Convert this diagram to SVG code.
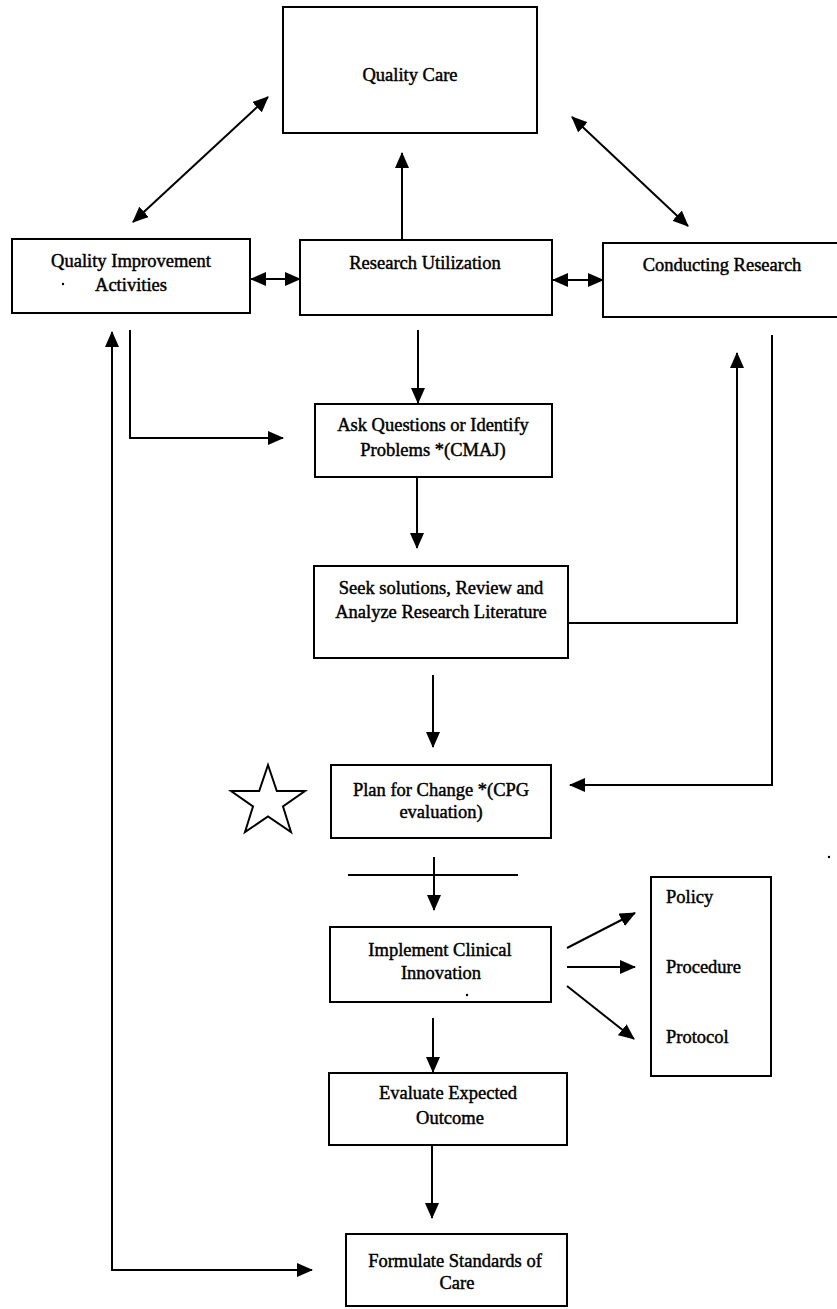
<svg xmlns="http://www.w3.org/2000/svg" width="837" height="1309" viewBox="0 0 837 1309">
<style>
.box{fill:#fff;stroke:#000;stroke-width:2}
.t{font-family:"Liberation Serif","Times New Roman",serif;font-size:18.5px;fill:#000;stroke:#000;stroke-width:0.45;text-anchor:middle}
.tl{text-anchor:start}
.c{fill:none;stroke:#000;stroke-width:2}
</style>
<defs>
<marker id="ah" markerUnits="userSpaceOnUse" markerWidth="16" markerHeight="14" refX="15" refY="7" orient="auto-start-reverse">
<path d="M0,0 L16,7 L0,14 Z" fill="#000"/>
</marker>
</defs>
<rect width="837" height="1309" fill="#fff"/>

<g id="connectors">
<line class="c" x1="133" y1="222" x2="268" y2="97" marker-start="url(#ah)" marker-end="url(#ah)"/>
<line class="c" x1="572" y1="117" x2="688" y2="226" marker-start="url(#ah)" marker-end="url(#ah)"/>
<line class="c" x1="402" y1="240" x2="402" y2="153" marker-end="url(#ah)"/>
<line class="c" x1="251" y1="279" x2="300" y2="279" marker-start="url(#ah)" marker-end="url(#ah)"/>
<line class="c" x1="553" y1="280" x2="603" y2="280" marker-start="url(#ah)" marker-end="url(#ah)"/>
<line class="c" x1="418" y1="330" x2="418" y2="403" marker-end="url(#ah)"/>
<path class="c" d="M130,330 V438 H283" marker-end="url(#ah)"/>
<path class="c" d="M112,332 V1270 H312" marker-start="url(#ah)" marker-end="url(#ah)"/>
<line class="c" x1="417" y1="477" x2="417" y2="548" marker-end="url(#ah)"/>
<path class="c" d="M568,623 H737 V353" marker-end="url(#ah)"/>
<path class="c" d="M772,335 V785 H570" marker-end="url(#ah)"/>
<line class="c" x1="433" y1="675" x2="433" y2="747" marker-end="url(#ah)"/>
<line class="c" x1="434" y1="857" x2="434" y2="910" marker-end="url(#ah)"/>
<line class="c" x1="348" y1="875" x2="518" y2="875"/>
<line class="c" x1="433" y1="1018" x2="433" y2="1072" marker-end="url(#ah)"/>
<line class="c" x1="432" y1="1145" x2="432" y2="1218" marker-end="url(#ah)"/>
<line class="c" x1="567" y1="948" x2="635" y2="913" marker-end="url(#ah)"/>
<line class="c" x1="567" y1="967" x2="635" y2="967" marker-end="url(#ah)"/>
<line class="c" x1="567" y1="986" x2="634" y2="1039" marker-end="url(#ah)"/>
</g>

<g id="quality-care">
<rect class="box" x="283" y="7" width="254" height="126"/>
<text class="t" x="410" y="81">Quality Care</text>
</g>

<g id="quality-improvement">
<rect class="box" x="12" y="239" width="238" height="74"/>
<text class="t" x="131" y="267">Quality Improvement</text>
<text class="t" x="131" y="291">Activities</text>
<circle cx="63" cy="284" r="1.2" fill="#000"/>
</g>

<g id="research-utilization">
<rect class="box" x="300" y="240" width="252" height="75"/>
<text class="t" x="425" y="269">Research Utilization</text>
</g>

<g id="conducting-research">
<rect class="box" x="603" y="243" width="236" height="74"/>
<text class="t" x="722" y="271">Conducting Research</text>
</g>

<g id="ask-questions">
<rect class="box" x="315" y="404" width="237" height="73"/>
<text class="t" x="433" y="431">Ask Questions or Identify</text>
<text class="t" x="433" y="456">Problems *(CMAJ)</text>
</g>

<g id="seek-solutions">
<rect class="box" x="314" y="566" width="254" height="92"/>
<text class="t" x="441" y="594">Seek solutions, Review and</text>
<text class="t" x="441" y="618">Analyze Research Literature</text>
</g>

<g id="star">
<polygon points="268,765 276.8,791 305,791 283,806.5 291,832 268,816.5 245,832 253,806.5 231,791 259.2,791" fill="none" stroke="#000" stroke-width="2" stroke-linejoin="miter"/>
</g>

<g id="plan-for-change">
<rect class="box" x="331" y="765" width="220" height="73"/>
<text class="t" x="441" y="796">Plan for Change *(CPG</text>
<text class="t" x="441" y="818">evaluation)</text>
</g>

<g id="implement">
<rect class="box" x="330" y="927" width="221" height="75"/>
<text class="t" x="440" y="956">Implement Clinical</text>
<text class="t" x="441" y="979">Innovation</text>
<circle cx="467" cy="995" r="1.2" fill="#000"/>
</g>

<g id="policy-box">
<rect class="box" x="651" y="877" width="120" height="199"/>
<text class="t tl" x="666" y="903">Policy</text>
<text class="t tl" x="666" y="973">Procedure</text>
<text class="t tl" x="666" y="1043">Protocol</text>
</g>

<g id="evaluate">
<rect class="box" x="329" y="1073" width="238" height="72"/>
<text class="t" x="448" y="1099">Evaluate Expected</text>
<text class="t" x="450" y="1124">Outcome</text>
</g>

<g id="formulate">
<rect class="box" x="346" y="1234" width="221" height="72"/>
<text class="t" x="455" y="1267">Formulate Standards of</text>
<text class="t" x="457" y="1289">Care</text>
</g>

<circle cx="829" cy="857" r="1.2" fill="#000"/>
</svg>
